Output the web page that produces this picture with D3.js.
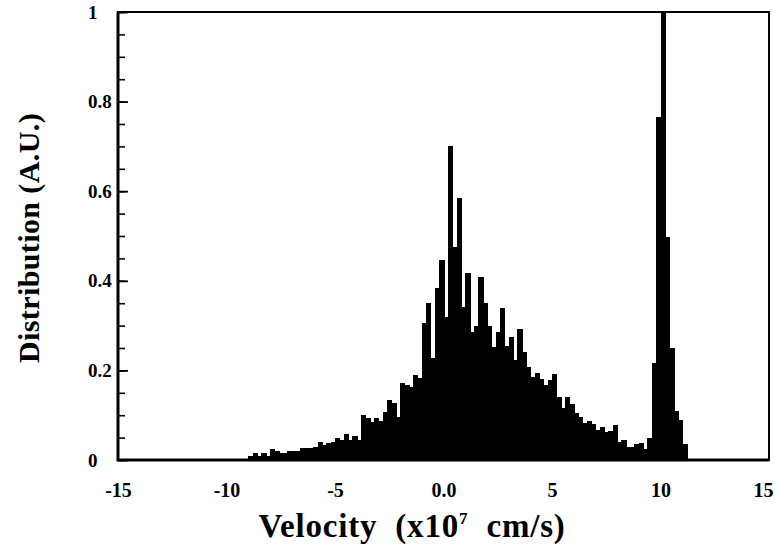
<!DOCTYPE html>
<html>
<head>
<meta charset="utf-8">
<script src="https://cdn.jsdelivr.net/npm/d3@7"></script>
<style>
  body { margin: 0; background: #fff; }
  text { font-family: "Liberation Serif", serif; font-weight: bold; fill: #000; }
</style>
</head>
<body>
<div id="chart"></div>
<script>
// histogram bins start at -9 and are 0.2 wide (x10^7 cm/s)
const firstBin = -9.0
const binWidth = 0.2
const counts = [
  0.008, 0.015, 0.008, 0.016, 0.01, 0.024, 0.02, 0.016, 0.016, 0.019,
  0.019, 0.02, 0.026, 0.027, 0.026, 0.03, 0.041, 0.033, 0.038, 0.04,
  0.048, 0.045, 0.058, 0.045, 0.054, 0.045, 0.10, 0.093, 0.085, 0.093,
  0.088, 0.108, 0.134, 0.127, 0.095, 0.172, 0.168, 0.162, 0.19, 0.183,
  0.305, 0.35, 0.228, 0.384, 0.446, 0.32, 0.70, 0.476, 0.585, 0.342,
  0.417, 0.286, 0.30, 0.408, 0.35, 0.298, 0.253, 0.286, 0.339, 0.254,
  0.275, 0.223, 0.292, 0.24, 0.208, 0.185, 0.195, 0.18, 0.168, 0.178,
  0.193, 0.141, 0.115, 0.141, 0.125, 0.105, 0.095, 0.083, 0.086, 0.08,
  0.067, 0.074, 0.062, 0.065, 0.078, 0.041, 0.045, 0.03, 0.03, 0.036,
  0.039, 0.025, 0.05, 0.216, 0.766, 1.0, 0.498, 0.25, 0.11, 0.09,
  0.035
]
const xTicks = [-15, -10, -5, 0, 5, 10, 15]
const xTickLabels = ["-15", "-10", "-5", "0.0", "5", "10", "15"]
const yTicks = [0, 0.2, 0.4, 0.6, 0.8, 1]
const yTickLabels = ["0", "0.2", "0.4", "0.6", "0.8", "1"]

const margin = {top: 12, right: 6, bottom: 86, left: 118}
const width = 775 - margin.left - margin.right
const height = 546 - margin.top - margin.bottom

const xScale = d3.scaleLinear().domain([-15, 15]).range([0, width])
const yScale = d3.scaleLinear().domain([0, 1]).range([height, 0])

const svg = d3.select("#chart")
  .append("svg")
  .attr("width", 775)
  .attr("height", 546)

const g = svg.append("g")
  .attr("transform", "translate(" + margin.left + "," + margin.top + ")")

// bars, slightly overlapped so the histogram reads as one black mass
const barW = xScale(binWidth) - xScale(0)
g.selectAll("rect.bar")
  .data(counts)
  .join("rect")
  .attr("class", "bar")
  .attr("x", (d, i) => xScale(firstBin + i * binWidth))
  .attr("width", barW + 1)
  .attr("y", d => yScale(d))
  .attr("height", d => yScale(0) - yScale(d))
  .attr("fill", "#000")
  .attr("shape-rendering", "crispEdges")

// minor y ticks (inward)
const yMinor = g.append("g")
  .call(d3.axisLeft(yScale).ticks(20).tickSize(-7).tickFormat(""))
yMinor.select(".domain").remove()
yMinor.selectAll("line").attr("stroke-width", 1.6)

// major y ticks + labels
const yAxis = g.append("g")
  .call(d3.axisLeft(yScale).tickValues(yTicks).tickSize(-10)
    .tickFormat((d, i) => yTickLabels[i]))
yAxis.select(".domain").remove()
yAxis.selectAll("line").attr("stroke-width", 1.8)
yAxis.selectAll("text")
  .attr("x", -30)
  .attr("text-anchor", "start")
  .style("font-size", "19px")

// x labels
const xAxis = g.append("g")
  .attr("transform", "translate(0," + height + ")")
  .call(d3.axisBottom(xScale).tickValues(xTicks).tickSize(0).tickPadding(23)
    .tickFormat((d, i) => xTickLabels[i]))
xAxis.select(".domain").remove()
xAxis.selectAll("text").style("font-size", "20px")
xAxis.selectAll("text").filter(d => d === 15)
  .attr("text-anchor", "end").attr("x", 4)

// frame
g.append("rect")
  .attr("width", width).attr("height", height)
  .attr("fill", "none").attr("stroke", "#000").attr("stroke-width", 2)
g.append("path")
  .attr("d", "M0,0V" + height + "H" + width)
  .attr("fill", "none").attr("stroke", "#000").attr("stroke-width", 3)

// axis titles
const xt = svg.append("text")
  .attr("x", 412).attr("y", 537)
  .attr("text-anchor", "middle")
  .style("font-size", "33px")
  .style("letter-spacing", "0.8px")
xt.append("tspan").text("Velocity\u00a0\u00a0(x10")
xt.append("tspan").attr("dy", -13).style("font-size", "17px").text("7")
xt.append("tspan").attr("dy", 13).text("\u00a0\u00a0cm/s)")

svg.append("text")
  .attr("transform", "translate(39,238) rotate(-90)")
  .attr("text-anchor", "middle")
  .style("font-size", "30px")
  .style("letter-spacing", "0.4px")
  .text("Distribution (A.U.)")
</script>
</body>
</html>
